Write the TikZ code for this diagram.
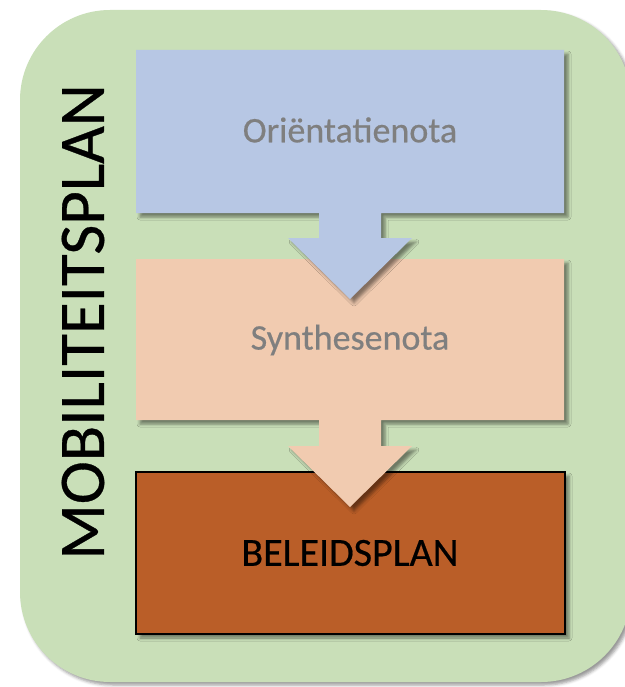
\documentclass[tikz,border=0pt]{standalone}
\usepackage{fontspec}
\setmainfont{Carlito}
\newfontfamily\heavyfont[FakeBold=0.5]{Carlito}
\usetikzlibrary{shadows.blur}
\definecolor{frameGreen}{HTML}{C9DFB8}
\definecolor{stepBlue}{HTML}{B7C7E4}
\definecolor{stepPeach}{HTML}{F1CBB0}
\definecolor{stepBrown}{HTML}{BA5E28}
\definecolor{labelGray}{HTML}{7F7F7F}
\tikzset{
  softshadow/.style={blur shadow={shadow xshift=4pt, shadow yshift=-4pt, shadow blur radius=3pt, shadow opacity=45}},
  framebox/.style={fill=frameGreen, rounded corners=90pt, blur shadow={shadow xshift=3pt, shadow yshift=-3pt, shadow blur radius=3pt, shadow opacity=40}},
  steptext/.style={text=labelGray, font=\heavyfont\fontsize{36}{43}\selectfont, inner sep=0pt},
}
\begin{document}
\begin{tikzpicture}[x=1pt,y=-1pt]
\useasboundingbox (0,0) rectangle (624,687);
% frame
\path[framebox] (20,10) rectangle (631,682);
% final box
\path[fill=stepBrown, draw=black, line width=2.8pt, softshadow] (136,472) rectangle (565,634);
% peach box with arrow
\path[fill=stepPeach, softshadow] (136,259) -- (564,259) -- (564,420) -- (381,420) -- (381,446) -- (412,446) -- (350,507) -- (288,446) -- (319,446) -- (319,420) -- (136,420) -- cycle;
% blue box with arrow
\path[fill=stepBlue, softshadow] (136,50) -- (564,50) -- (564,213) -- (381,213) -- (381,238) -- (412,238) -- (350,299) -- (288,238) -- (319,238) -- (319,213) -- (136,213) -- cycle;
% labels
\node[steptext] (orient) at (350,130) {Oriëntatienota};
\node[steptext] (synth) at (350,340) {Synthesenota};
\node[text=black, font=\heavyfont\fontsize{40}{48}\selectfont, inner sep=0pt] (beleid) at (350,553) {BELEIDSPLAN};
\node[text=black, font=\heavyfont\fontsize{65}{78}\selectfont, inner sep=0pt, rotate=90] (mob) at (83,322) {MOBILITEITSPLAN};
\end{tikzpicture}
\end{document}
